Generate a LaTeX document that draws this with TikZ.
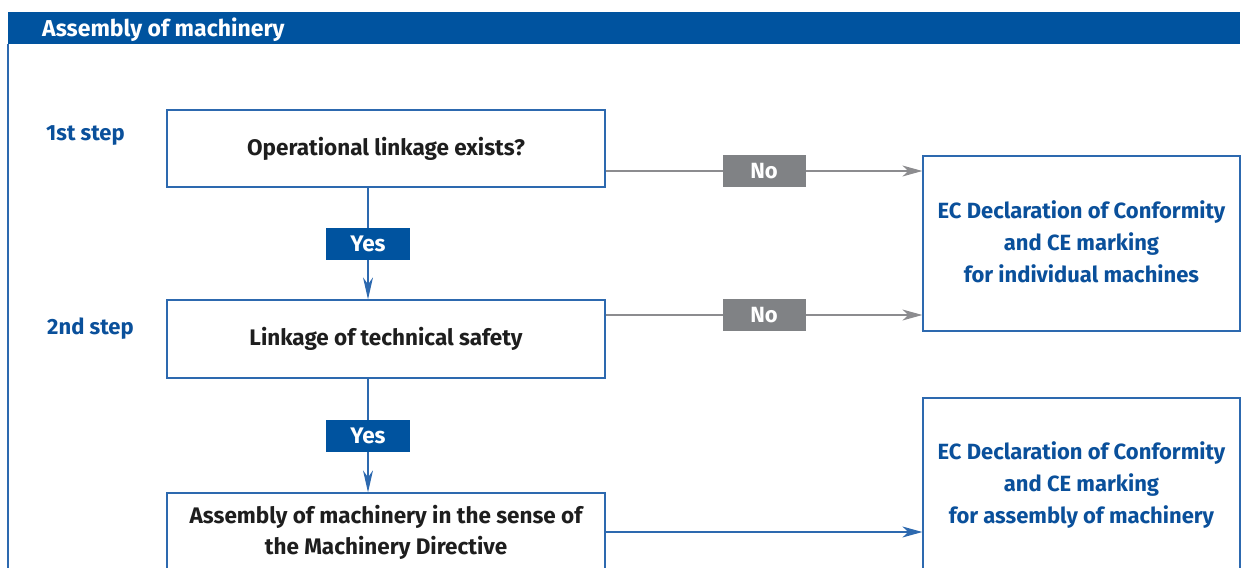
\documentclass[tikz,border=0pt]{standalone}
\usepackage{fontspec}
\setmainfont{Fira Sans}
\usetikzlibrary{arrows.meta}
\definecolor{hdrblue}{RGB}{0,83,159}
\definecolor{boxblue}{RGB}{45,105,175}
\definecolor{txtblue}{RGB}{10,80,155}
\definecolor{lblgrey}{RGB}{128,130,133}
\definecolor{linegrey}{RGB}{140,140,143}
\definecolor{txtblack}{RGB}{30,30,30}
\newcommand{\lowpad}{\rule[-4pt]{0pt}{1pt}}
\newcommand{\highpad}{\rule{0pt}{20pt}}
\tikzset{
  stepbox/.style={draw=boxblue, line width=1.3pt, fill=white, minimum width=438pt, align=center,
    font=\fontsize{22.5}{31}\selectfont\bfseries, text=txtblack, inner sep=0pt},
  resbox/.style={draw=boxblue, line width=1.3pt, fill=white, minimum width=317pt, align=center,
    font=\fontsize{22}{32}\selectfont\bfseries, text=txtblue, inner sep=0pt},
  steplabel/.style={anchor=west, font=\fontsize{22}{26}\selectfont\bfseries, text=txtblue, inner sep=0pt},
  yeslbl/.style={fill=hdrblue, text=white, minimum width=84pt, minimum height=32pt, inner sep=0pt,
    font=\fontsize{22.5}{26}\selectfont\bfseries},
  nolbl/.style={fill=lblgrey, text=white, minimum width=83pt, minimum height=32pt, inner sep=0pt,
    font=\fontsize{22}{26}\selectfont\bfseries},
  yesarrow/.style={draw=boxblue, line width=1.2pt, -{Stealth[length=22pt,width=10pt,inset=7pt]}},
  noarrow/.style={draw=linegrey, line width=1.2pt, -{Stealth[length=20pt,width=11pt,inset=6pt]}},
  blarrow/.style={draw=boxblue, line width=1.2pt, -{Stealth[length=20pt,width=11pt,inset=6pt]}},
}
\begin{document}
\begin{tikzpicture}[x=1pt,y=-1pt]
\useasboundingbox (0,0) rectangle (1246,567);
\clip (0,0) rectangle (1246,567);
% header
\fill[hdrblue] (8,12) rectangle (1240,44);
\node[anchor=west, text=white, font=\fontsize{23}{26}\selectfont\bfseries, inner sep=0pt] (title) at (42,30) {Assembly of machinery};
\draw[boxblue, line width=1.3pt] (8,44) -- (8,580);
% step labels
\node[steplabel] (s1) at (46,136) {1st step};
\node[steplabel] (s2) at (47,329) {2nd step};
% step boxes
\node[stepbox, minimum height=77pt] (b1) at (386,148.5) {Operational linkage exists?};
\node[stepbox, minimum height=78pt] (b2) at (386,339) {Linkage of technical safety};
\node[stepbox, minimum height=78pt] (b3) at (386,532) {Assembly of machinery in the sense of\\the Machinery Directive};
% result boxes
\node[resbox, minimum height=175pt] (r1) at (1081.5,243.5) {EC Declaration of Conformity\\and CE marking\\for individual machines\lowpad};
\node[resbox, minimum height=172pt] (r2) at (1081.5,484) {\highpad EC Declaration of Conformity\\and CE marking\\for assembly of machinery};
% coordinates for horizontal connector heights
\coordinate (n1) at (700,171);
\coordinate (n2) at (700,315);
% connectors
\draw[yesarrow] (b1.south -| 368,0) -- node[yeslbl] (y1) {Yes} (b2.north -| 368,0);
\draw[yesarrow] (b2.south -| 368,0) -- node[yeslbl] (y2) {Yes} (b3.north -| 368,0);
\draw[noarrow] (b1.east |- n1) -- node[nolbl] (no1) {No} (r1.west |- n1);
\draw[noarrow] (b2.east |- n2) -- node[nolbl] (no2) {No} (r1.west |- n2);
\draw[blarrow] (b3.east) -- (r2.west |- b3.east);
\end{tikzpicture}
\end{document}
